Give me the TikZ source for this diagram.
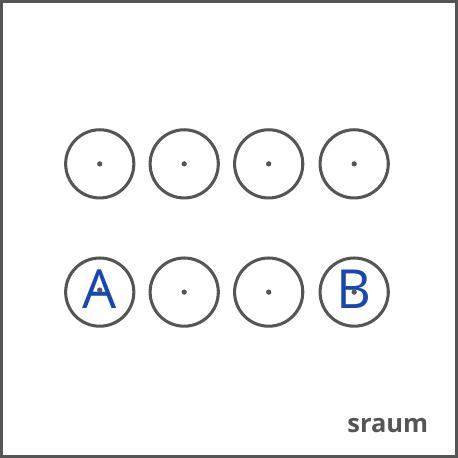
\documentclass[tikz,border=0pt]{standalone}
\usepackage{fontspec}
\setmainfont{Open Sans}
\usetikzlibrary{positioning}
\definecolor{ringgray}{RGB}{85,85,85}
\definecolor{letterblue}{RGB}{22,72,180}

\begin{document}
\begin{tikzpicture}[x=1pt, y=-1pt,
  ring/.style={circle, draw=ringgray, line width=3pt, minimum size=67pt, inner sep=0pt},
  letter/.style={text=letterblue, font=\fontsize{53}{53}\selectfont, inner sep=0pt},
  brand/.style={text=ringgray, font=\fontsize{25}{25}\selectfont\bfseries, inner sep=0pt}]
  \useasboundingbox (0,0) rectangle (450,450);
  \draw[ringgray, line width=3pt] (1.5,1.5) rectangle (448.5,448.5);
  % two rows of rings
  \foreach \i/\x in {1/98, 2/181, 3/264, 4/348} {
    \node[ring] (t\i) at (\x,161) {};
    \node[ring] (b\i) at (\x,287) {};
  }
  \node[letter, anchor=base] (lA) at ([yshift=-16pt]b1.center) {A};
  \node[letter, anchor=base] (lB) at ([yshift=-16pt]b4.center) {B};
  \foreach \n in {t1,t2,t3,t4,b2,b3,b4}
    \fill[ringgray] (\n.center) circle (2.6pt);
  \fill[ringgray] ([yshift=2pt]b1.center) circle (2.6pt);
  \node[brand, anchor=base] (logo) at (381,425) {sraum};
\end{tikzpicture}
\end{document}
